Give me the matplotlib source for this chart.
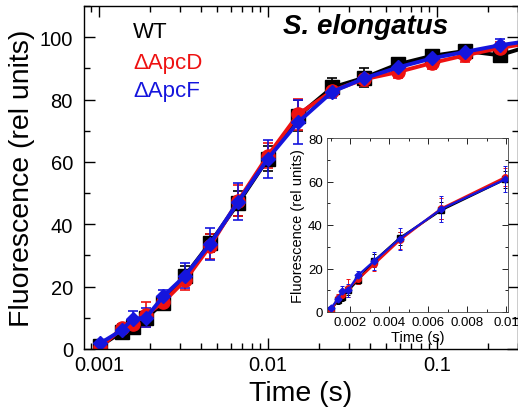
import matplotlib.pyplot as plt
import numpy as np
from matplotlib.ticker import LogLocator, MultipleLocator, NullFormatter, FixedLocator

plt.rcParams['font.family'] = ['Liberation Sans', 'DejaVu Sans']

# data (time in s, fluorescence in rel units)
t = [0.00102, 0.00136, 0.00158, 0.0019, 0.0024, 0.00323, 0.00454, 0.00667, 0.00996,
     0.0151, 0.024, 0.037, 0.0585, 0.093, 0.1466, 0.234, 0.37]
wt = [1.0, 5.4, 7.0, 10.0, 14.7, 23.5, 34.0, 46.8, 61.0, 74.8, 83.9, 87.0, 91.3, 94.0, 95.6, 94.2, 97.5]
apcd = [0.5, 6.6, 8.0, 11.0, 15.0, 22.0, 33.0, 47.6, 62.0, 75.3, 82.8, 86.5, 88.8, 91.7, 94.2, 96.5, 98.3]
apcf = [1.9, 6.0, 9.6, 10.1, 16.9, 23.5, 33.7, 47.3, 61.0, 72.8, 82.5, 86.8, 90.3, 93.2, 95.3, 97.4, 99.0]
wt_err = [1, 1.5, 2, 2, 2, 3, 3, 4, 4, 5, 3, 3, 2, 2, 2, 2, 2]
apcd_err = [1, 1.5, 2, 4, 2, 3, 4, 5, 4, 5, 2, 2, 2, 2, 2, 2, 2]
apcf_err = [1, 2, 2.5, 3, 2, 4, 5, 6, 6, 7, 2, 2, 2, 2, 2, 2, 2]

series = [
    ('WT', wt, wt_err, 'black', 's'),
    ('\u0394ApcD', apcd, apcd_err, '#ee1111', 'o'),
    ('\u0394ApcF', apcf, apcf_err, '#1515dd', 'D'),
]

fig = plt.figure(figsize=(5.18, 4.10), dpi=100)
ax = fig.add_axes([84 / 518, 1 - 350 / 410, 1 - 84 / 518, 343 / 410])

sizes = {'s': 9.5, 'o': 9.5, 'D': 7.5}
for name, y, e, c, m in series:
    ax.errorbar(t, y, yerr=e, color=c, marker=m, markersize=sizes[m], linewidth=2.8,
                elinewidth=1.2, capsize=3.5, capthick=1.2, clip_on=True)

ax.set_xscale('log')
ax.set_xlim(0.000815, 0.301)
ax.set_ylim(0, 110)
ax.xaxis.set_major_locator(FixedLocator([0.001, 0.01, 0.1]))
ax.set_xticklabels(['0.001', '0.01', '0.1'])
ax.xaxis.set_minor_locator(LogLocator(base=10, subs=np.arange(2, 10)))
ax.xaxis.set_minor_formatter(NullFormatter())
ax.yaxis.set_major_locator(MultipleLocator(20))
ax.yaxis.set_minor_locator(MultipleLocator(10))
ax.tick_params(which='both', direction='in', top=True, right=True, labelsize=14.5, width=1)
ax.tick_params(which='major', length=8)
ax.tick_params(which='minor', length=4)
ax.tick_params(axis='x', pad=4)
ax.tick_params(axis='y', pad=8)
for s in ax.spines.values():
    s.set_linewidth(1)
ax.set_xlabel('Time (s)', fontsize=20.5, labelpad=5)
ax.set_ylabel('Fluorescence (rel units)', fontsize=20.5, labelpad=3)

# legend-like labels
ax.text(133 / 518, 1 - 33 / 410, 'WT', transform=fig.transFigure, fontsize=16, color='black', va='center')
ax.text(133 / 518, 1 - 63 / 410, '\u0394ApcD', transform=fig.transFigure, fontsize=16, color='#ee1111', va='center')
ax.text(133 / 518, 1 - 92 / 410, '\u0394ApcF', transform=fig.transFigure, fontsize=16, color='#1515dd', va='center')
ax.text(283 / 518, 1 - 27 / 410, 'S. elongatus', transform=fig.transFigure, fontsize=20,
        fontweight='bold', fontstyle='italic', va='center')

# inset
ins = fig.add_axes([327 / 518, 1 - 313 / 410, 181 / 518, 174 / 410])
ins.set_facecolor('white')
n = 9
for name, y, e, c, m in series:
    ins.errorbar(t[:n], y[:n], yerr=e[:n], color=c, marker=m, markersize=4 if m != 'D' else 3.5,
                 linewidth=1.6, elinewidth=0.7, capsize=1.5, capthick=0.7)
ins.set_xlim(0.0008, 0.0101)
ins.set_ylim(0, 80)
ins.xaxis.set_major_locator(FixedLocator([0.002, 0.004, 0.006, 0.008, 0.01]))
ins.set_xticklabels(['0.002', '0.004', '0.006', '0.008', '0.01'])
ins.xaxis.set_minor_locator(MultipleLocator(0.001))
ins.yaxis.set_major_locator(MultipleLocator(20))
ins.yaxis.set_minor_locator(MultipleLocator(10))
ins.tick_params(which='both', direction='in', top=True, right=True, labelsize=9.5, width=0.6, pad=3)
ins.tick_params(which='major', length=4)
ins.tick_params(which='minor', length=2)
for s in ins.spines.values():
    s.set_linewidth(0.6)
    s.set_color('#444444')
ins.set_xlabel('Time (s)', fontsize=10.5, labelpad=1)
ins.set_ylabel('Fluorescence (rel units)', fontsize=10.5, labelpad=2)

fig.savefig('out.png', dpi=100)
